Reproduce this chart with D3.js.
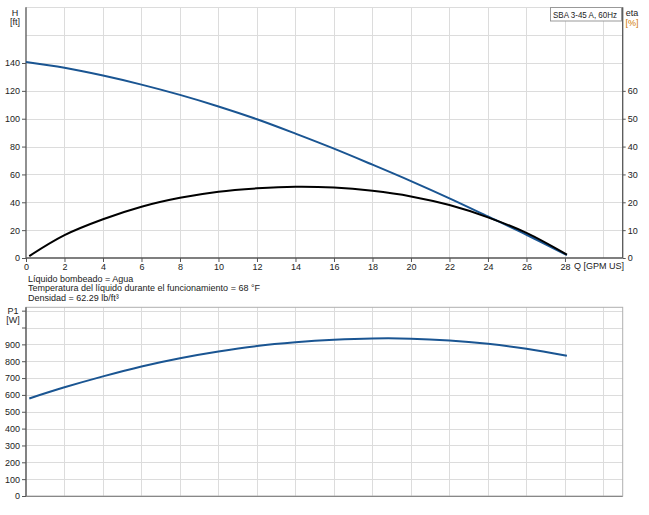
<!DOCTYPE html>
<html>
<head>
<meta charset="utf-8">
<script src="https://cdn.jsdelivr.net/npm/d3@7/dist/d3.min.js"></script>
<style>
  html, body { margin: 0; padding: 0; background: #fff; }
  svg { display: block; font-family: "Liberation Sans", Arial, sans-serif; }
</style>
</head>
<body>
<svg id="chart" width="649" height="515"></svg>
<script>
// ---- Data ----
const qTicks = [0,2,4,6,8,10,12,14,16,18,20,22,24,26,28];
const hTicks = [0,20,40,60,80,100,120,140];
const etaTicks = [0,10,20,30,40,50,60];
const p1Ticks = [0,100,200,300,400,500,600,700,800,900];

const qHead = [0,2,4,6,8,10,12,14,16,18,20,22,24,26,28.1];
const head  = [140.7,136.6,131.0,124.5,117.1,108.8,99.6,89.3,78.5,67.0,55.2,42.8,29.8,16.7,2.1];

const qEta = [0.17,2,4,6,8,10,12,14,16,18,20,22,24,26,28.1];
const eta  = [0.7,8.2,13.9,18.4,21.6,23.8,25.0,25.6,25.3,24.1,22.1,19.0,14.6,9.0,1.2];

const qP1 = [0.17,2,4,6,8,10,12,14,16,18,20,22,24,26,28.1];
const p1  = [579,645,710,769,818,858,890,912,927,935,934,923,903,874,832];

const infoLines = [
  "Líquido bombeado = Agua",
  "Temperatura del líquido durante el funcionamiento = 68 °F",
  "Densidad = 62.29 lb/ft³"
];
const title = "SBA 3-45 A, 60Hz";

// ---- Layout ----
const svg = d3.select("#chart");
const L = 26, R = 622.7;
const topT = 7.3, topB = 258;
const botT = 307.3, botB = 496;

const x = d3.scaleLinear().domain([0,31]).range([L,R]);
const yH = d3.scaleLinear().domain([0,180]).range([topB,topT]);
const yE = d3.scaleLinear().domain([0,90]).range([topB,topT]);
const yP = d3.scaleLinear().domain([0,1120]).range([botB,botT]);

const gridCol = "#dcdcdc";
const axisCol = "#555";
const txtCol = "#222";
const blue = "#1a5592";

function vgrid(y0,y1){
  svg.append("g").selectAll("line").data(d3.range(2,31,2)).join("line")
    .attr("x1",d=>Math.round(x(d))+0.5).attr("x2",d=>Math.round(x(d))+0.5)
    .attr("y1",y0).attr("y2",y1)
    .attr("stroke",gridCol).attr("stroke-width",1);
}

// ---- Top chart grid ----
vgrid(topT, topB);
svg.append("g").selectAll("line").data(d3.range(20,181,20)).join("line")
  .attr("x1",L).attr("x2",R)
  .attr("y1",d=>Math.round(yH(d))+0.5).attr("y2",d=>Math.round(yH(d))+0.5)
  .attr("stroke",gridCol);

// ---- Bottom chart grid ----
vgrid(botT, botB);
svg.append("g").selectAll("line").data(d3.range(100,1101,100)).join("line")
  .attr("x1",L).attr("x2",R)
  .attr("y1",d=>Math.round(yP(d))+0.5).attr("y2",d=>Math.round(yP(d))+0.5)
  .attr("stroke",gridCol);
svg.append("rect").attr("x",L).attr("y",botT).attr("width",R-L).attr("height",botB-botT)
  .attr("fill","none").attr("stroke","#b0b0b0");

// ---- Axes: top ----
const axH = d3.axisLeft(yH).tickValues(hTicks).tickSize(4).tickPadding(2);
const gH = svg.append("g").attr("transform",`translate(${L},0)`).call(axH);
gH.select(".domain").attr("d",`M-0,${topB}V${topT}`);

const axE = d3.axisRight(yE).tickValues(etaTicks).tickSize(3).tickPadding(2);
const gE = svg.append("g").attr("transform",`translate(${R},0)`).call(axE);
gE.select(".domain").attr("d",`M0,${topB}V${topT}`);

const axQ = d3.axisBottom(x).tickValues(qTicks).tickSize(4).tickPadding(2);
const gQ = svg.append("g").attr("transform",`translate(0,${topB})`).call(axQ);
gQ.select(".domain").attr("d",`M${L},0H${R}`);

// ---- Axes: bottom ----
const axP = d3.axisLeft(yP).tickValues(p1Ticks.concat([1000,1100])).tickSize(4).tickPadding(2)
  .tickFormat(d => d >= 1000 ? "" : d);
const gP = svg.append("g").attr("transform",`translate(${L},0)`).call(axP);
gP.select(".domain").attr("d",`M0,${botB}V${botT}`);
svg.append("line").attr("x1",L).attr("x2",R).attr("y1",botB+0.5).attr("y2",botB+0.5)
  .attr("stroke","#888");

svg.selectAll(".domain").attr("stroke",axisCol).attr("stroke-width",1.3);
svg.selectAll(".tick line").attr("stroke",axisCol);
svg.selectAll(".tick text").attr("fill",txtCol).style("font-size","9px")
  .style("font-family","'Liberation Sans', Arial, sans-serif");

// ---- Curves ----
const curve = d3.curveCatmullRom.alpha(0.5);
const lineH = d3.line().x((d,i)=>x(qHead[i])).y(d=>yH(d)).curve(curve);
svg.append("path").attr("d",lineH(head)).attr("fill","none").attr("stroke",blue).attr("stroke-width",2);

const lineE = d3.line().x((d,i)=>x(qEta[i])).y(d=>yE(d)).curve(curve);
svg.append("path").attr("d",lineE(eta)).attr("fill","none").attr("stroke","#000").attr("stroke-width",2);

const lineP = d3.line().x((d,i)=>x(qP1[i])).y(d=>yP(d)).curve(curve);
svg.append("path").attr("d",lineP(p1)).attr("fill","none").attr("stroke",blue).attr("stroke-width",2);

// ---- Labels ----
function txt(s,xp,yp,anchor,col,size){
  return svg.append("text").attr("x",xp).attr("y",yp).attr("text-anchor",anchor||"start")
    .attr("fill",col||txtCol).style("font-size",(size||9)+"px").text(s);
}
txt("H",15,15.5,"middle");
txt("[ft]",15,25,"middle");
txt("eta",632,15.5,"middle");
txt("[%]",632,25.5,"middle","#d07a00");
txt("Q [GPM US]",574,268.5,"start");
txt("P1",13,314,"middle");
txt("[W]",13,322.5,"middle");
infoLines.forEach((s,i)=>txt(s,28,282+i*9.3,"start"));

// title box
svg.append("rect").attr("x",550.5).attr("y",7.5).attr("width",71).attr("height",13.5)
  .attr("fill","#fff").attr("stroke","#999");
txt(title,553,17.5,"start",txtCol,8.5).attr("textLength",64).attr("lengthAdjust","spacingAndGlyphs");
</script>
</body>
</html>
